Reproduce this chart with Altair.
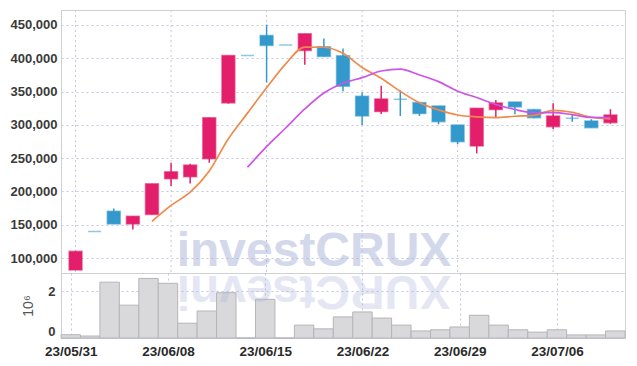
import altair as alt
import pandas as pd

dates = ["23/05/31", "23/06/01", "23/06/02", "23/06/05", "23/06/07", "23/06/08",
         "23/06/09", "23/06/12", "23/06/13", "23/06/14", "23/06/15", "23/06/16",
         "23/06/19", "23/06/20", "23/06/21", "23/06/22", "23/06/23", "23/06/26",
         "23/06/27", "23/06/28", "23/06/29", "23/06/30", "23/07/03", "23/07/04",
         "23/07/05", "23/07/06", "23/07/07", "23/07/10", "23/07/11"]
opens = [82000, 140000, 170300, 151200, 165400, 219000, 222000, 249100, 333000, 404000,
         434300, 419900, 411700, 417300, 403800, 343100, 319900, 338600, 333400, 328500,
         299900, 268200, 322900, 334500, 322900, 297300, 310000, 305900, 303300]
closes = [110000, 140000, 151200, 162800, 211500, 229500, 239600, 310800, 404200, 404000,
          419300, 419900, 436900, 402700, 358100, 313400, 339000, 338600, 316900, 304800,
          274700, 325000, 333000, 327000, 310800, 313400, 310000, 295800, 314900]
highs = [110000, 140000, 174400, 162800, 211500, 243100, 241600, 310800, 404200, 404000,
         450500, 419900, 436900, 429800, 414800, 348500, 358600, 351500, 333400, 328500,
         299900, 325000, 337500, 334500, 323500, 332500, 316000, 308400, 323500]
lows = [82000, 140000, 151200, 142800, 165400, 208000, 212100, 243100, 332000, 404000,
        363600, 419900, 390200, 402700, 350600, 299900, 316400, 313400, 313400, 300900,
        270800, 257200, 311900, 316000, 310000, 293400, 304800, 295800, 301800]
volumes = [140000, 85000, 2380000, 1400000, 2540000, 2330000, 630000, 1150000, 1930000, 0,
           1650000, 0, 550000, 390000, 900000, 1110000, 850000, 550000, 300000, 350000,
           470000, 970000, 550000, 350000, 250000, 350000, 130000, 130000, 300000]
label_days = [0, 5, 10, 15, 20, 25]
price_ticks = [100000, 150000, 200000, 250000, 300000, 350000, 400000, 450000]
volume_ticks = [0, 2000000]
watermark = ["investCRUX"]

df = pd.DataFrame({
    "idx": list(range(len(dates))), "date": dates,
    "open": opens, "close": closes, "high": highs, "low": lows, "volume": volumes,
})
wm = pd.DataFrame({"t": watermark, "r": [w[::-1] for w in watermark]})
grid_df = pd.DataFrame({"idx": label_days})

UP = "#e31f6c"
DOWN = "#3399cc"
FONT = "Liberation Sans"
GRID = "#c3c7df"
W = 564

xdom = [-0.5, len(dates) - 0.5]
xscale = alt.Scale(domain=xdom, nice=False, zero=False)
color = alt.Color("dir:N", scale=alt.Scale(domain=["up", "down"], range=[UP, DOWN]), legend=None)
label_expr = "[" + ",".join("'%s'" % d for d in dates) + "][datum.value]"

base = alt.Chart(df).transform_calculate(
    dir="datum.close > datum.open ? 'up' : 'down'"
)
x_top = alt.X("idx:Q", scale=xscale, axis=None)
y_price = alt.Scale(domain=[77500, 472500], nice=False, zero=False)
y_axis = alt.Axis(values=price_ticks, labelExpr="format(datum.value, ',')", ticks=False,
                  domain=True, title=None, grid=True, labelFont=FONT, labelFontSize=13,
                  labelFontWeight="bold", labelColor="#3a3a3a", labelPadding=4)

vgrid = alt.Chart(grid_df).mark_rule(color=GRID, strokeDash=[2, 3], strokeWidth=1).encode(
    x=x_top)
wm_text = alt.Chart(wm).mark_text(
    font="Liberation Sans", fontWeight="bold", fontSize=48, color="#a8b3d9",
    opacity=0.5, align="center", baseline="alphabetic"
).encode(text="t:N", x=alt.value(253), y=alt.value(256))

wick = base.mark_rule(strokeWidth=1.5).encode(
    x=x_top, y=alt.Y("low:Q", scale=y_price, axis=y_axis), y2="high:Q", color=color)
body = base.mark_bar(size=13, strokeWidth=1.5, strokeOpacity=0.55).encode(
    x=x_top, y=alt.Y("open:Q", scale=y_price, axis=y_axis), y2="close:Q",
    color=color, stroke=color)

ma5 = alt.Chart(df).transform_window(
    ma="mean(close)", n="count()", frame=[-4, 0], sort=[alt.SortField("idx")]
).transform_filter("datum.n >= 5").mark_line(
    color="#f08a4b", strokeWidth=1.7, interpolate="monotone"
).encode(x=x_top, y=alt.Y("ma:Q", scale=y_price, axis=y_axis))
ma10 = alt.Chart(df).transform_window(
    ma="mean(close)", n="count()", frame=[-9, 0], sort=[alt.SortField("idx")]
).transform_filter("datum.n >= 10").mark_line(
    color="#cc55e8", strokeWidth=1.7, interpolate="monotone"
).encode(x=x_top, y=alt.Y("ma:Q", scale=y_price, axis=y_axis))

price_panel = alt.layer(vgrid, wm_text, wick, body, ma5, ma10).properties(width=W, height=263)

x_bot_axis = alt.Axis(values=label_days, labelExpr=label_expr, ticks=False, domain=False,
                      grid=True, title=None, labelFont=FONT, labelFontSize=13.5,
                      labelFontWeight="bold", labelColor="#2a2a2a", labelPadding=6)
vol_axis = alt.Axis(values=volume_ticks, labelExpr="datum.value / 1000000",
                    ticks=False, domain=True, title="10⁶", titleFont=FONT,
                    titleFontSize=14, titleFontWeight="normal", titleColor="#555",
                    titlePadding=12, grid=True, labelFlush=True,
                    labelFont=FONT, labelFontSize=13, labelFontWeight="bold",
                    labelColor="#3a3a3a", labelPadding=6)
vol_bars = alt.Chart(df).transform_calculate(
    x0="datum.idx - 0.5", x1="datum.idx + 0.5", v0="0"
).mark_bar(color="#d9d9dc", stroke="#b5b5b9", strokeWidth=1).encode(
    x=alt.X("x0:Q", scale=xscale, axis=x_bot_axis),
    x2="x1:Q",
    y=alt.Y("volume:Q", scale=alt.Scale(domain=[0, 2770000], nice=False), axis=vol_axis),
    y2="v0:Q",
)
wm_refl = alt.Chart(wm).mark_text(
    font="Liberation Sans", fontWeight="bold", fontSize=48, color="#a8b3d9",
    opacity=0.3, align="center", baseline="alphabetic", angle=180
).encode(text="r:N", x=alt.value(253), y=alt.value(3))

vol_panel = alt.layer(vol_bars, wm_refl).properties(width=W, height=65)

chart = alt.vconcat(price_panel, vol_panel, spacing=0, bounds="flush").configure_view(
    stroke="#cfcfd4"
).configure_axis(
    gridColor=GRID, gridDash=[2, 3], gridWidth=1, domainColor="#cfcfd4"
).properties(padding={"left": 1, "top": 1, "right": 0, "bottom": 4})

chart.save("out.html", embed_options={"renderer": "svg", "actions": False})
